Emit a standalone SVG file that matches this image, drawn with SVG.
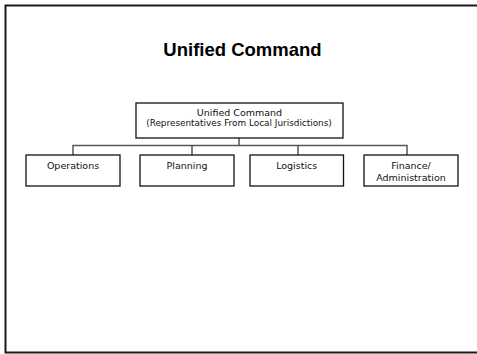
<svg xmlns="http://www.w3.org/2000/svg" width="477" height="354" viewBox="0 0 477 354">
<style>
.box{fill:#fff;stroke:#111;stroke-width:1.3}
.lbl{font-family:"DejaVu Sans",Verdana,sans-serif;font-size:9.5px;fill:#111;text-anchor:middle}
.sub{font-size:8.9px}
.conn{fill:none;stroke:#555;stroke-width:1.5}
</style>
<rect x="0" y="0" width="477" height="354" fill="#fff"/>
<rect x="5.5" y="5.5" width="520" height="347" fill="none" stroke="#1a1a1a" stroke-width="2"/>
<text x="242.5" y="56" font-family="'Liberation Sans',Arial,sans-serif" font-weight="bold" font-size="18.5" text-anchor="middle" fill="#000">Unified Command</text>
<g id="connectors">
<path class="conn" d="M239 138V145.5M73 155V145.5H407V155M192 145.5V155M298 145.5V155"/>
</g>
<g id="unified-command">
<rect class="box" x="136" y="103" width="207" height="35"/>
<text class="lbl" x="239.5" y="116.3">Unified Command</text>
<text class="lbl sub" x="239" y="125.5">(Representatives From Local Jurisdictions)</text>
</g>
<g id="operations">
<rect class="box" x="26" y="155" width="94" height="31"/>
<text class="lbl" x="73" y="169.3">Operations</text>
</g>
<g id="planning">
<rect class="box" x="140" y="155" width="94" height="31"/>
<text class="lbl" x="187" y="169.3">Planning</text>
</g>
<g id="logistics">
<rect class="box" x="250" y="155" width="93.5" height="31"/>
<text class="lbl" x="296.7" y="169.3">Logistics</text>
</g>
<g id="finance">
<rect class="box" x="364" y="155" width="94" height="31"/>
<text class="lbl" x="411" y="169.3">Finance/</text>
<text class="lbl" x="411" y="180.7">Administration</text>
</g>
</svg>
